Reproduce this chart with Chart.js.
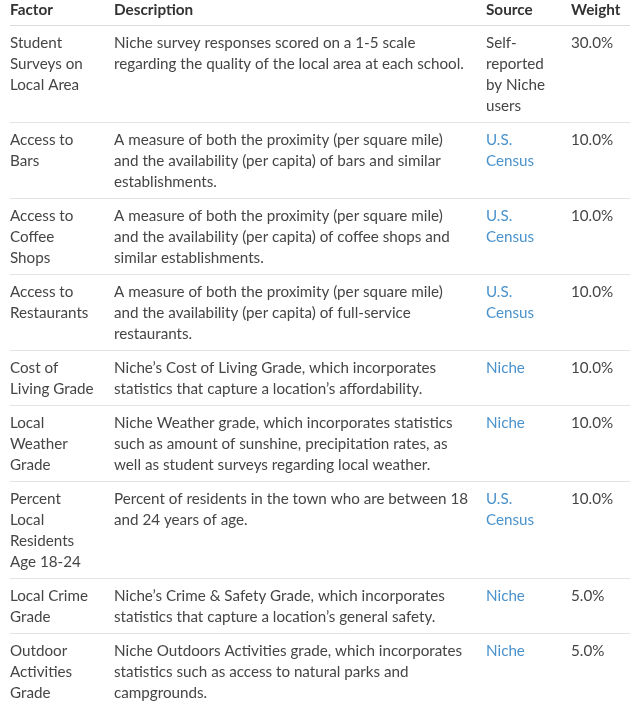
<!DOCTYPE html>
<html>
<head>
  <meta name="viewport" content="width=device-width, initial-scale=1.0">
  <title>Factors</title>
  <script src="https://cdn.jsdelivr.net/npm/chart.js"></script>
  <style>
    html, body {
      margin: 0;
      padding: 0;
      background-color: #ffffff;
    }

    #wrap {
      width: 640px;
      height: 703px;
      position: relative;
    }
  </style>
</head>
<body>
  <div id="wrap"><canvas id="myChart"></canvas></div>

  <script>
    const headers = ['Factor', 'Description', 'Source', 'Weight'];

    const factors = [
      ['Student', 'Surveys on', 'Local Area'],
      ['Access to', 'Bars'],
      ['Access to', 'Coffee', 'Shops'],
      ['Access to', 'Restaurants'],
      ['Cost of', 'Living Grade'],
      ['Local', 'Weather', 'Grade'],
      ['Percent', 'Local', 'Residents', 'Age 18-24'],
      ['Local Crime', 'Grade'],
      ['Outdoor', 'Activities', 'Grade']
    ];

    const descriptions = [
      ['Niche survey responses scored on a 1-5 scale', 'regarding the quality of the local area at each school.'],
      ['A measure of both the proximity (per square mile)', 'and the availability (per capita) of bars and similar', 'establishments.'],
      ['A measure of both the proximity (per square mile)', 'and the availability (per capita) of coffee shops and', 'similar establishments.'],
      ['A measure of both the proximity (per square mile)', 'and the availability (per capita) of full-service', 'restaurants.'],
      ['Niche\u2019s Cost of Living Grade, which incorporates', 'statistics that capture a location\u2019s affordability.'],
      ['Niche Weather grade, which incorporates statistics', 'such as amount of sunshine, precipitation rates, as', 'well as student surveys regarding local weather.'],
      ['Percent of residents in the town who are between 18', 'and 24 years of age.'],
      ['Niche\u2019s Crime & Safety Grade, which incorporates', 'statistics that capture a location\u2019s general safety.'],
      ['Niche Outdoors Activities grade, which incorporates', 'statistics such as access to natural parks and', 'campgrounds.']
    ];

    const sources = [
      ['Self-', 'reported', 'by Niche', 'users'],
      ['U.S.', 'Census'],
      ['U.S.', 'Census'],
      ['U.S.', 'Census'],
      ['Niche'],
      ['Niche'],
      ['U.S.', 'Census'],
      ['Niche'],
      ['Niche']
    ];

    const sourceIsLink = [false, true, true, true, true, true, true, true, true];

    const weights = [30.0, 10.0, 10.0, 10.0, 10.0, 10.0, 10.0, 5.0, 5.0];

    // column left edges in x units, row metrics in y units
    const colX = [10, 114, 486, 571];
    const tableRight = 630;
    const headerLine = 25;
    const lineH = 21;
    const rowGap = 13;
    const firstBase = 23;

    const FONT = 'Lato, "Noto Sans", sans-serif';
    const TEXT = '#454545';
    const LINK = '#4a92cc';
    const RULE = '#e3e3e3';

    const tablePlugin = {
      id: 'tableCells',
      afterDraw(chart) {
        const c = chart.ctx;
        const xs = chart.scales.x;
        const ys = chart.scales.y;
        c.save();
        c.textBaseline = 'alphabetic';
        c.textAlign = 'left';

        // header
        c.font = 'bold 15.3px ' + FONT;
        c.fillStyle = '#333333';
        headers.forEach((h, i) => {
          c.fillText(h, xs.getPixelForValue(colX[i]), ys.getPixelForValue(14.5));
        });

        c.strokeStyle = '#dcdcdc';
        c.lineWidth = 1;
        c.beginPath();
        c.moveTo(xs.getPixelForValue(colX[0]), Math.round(ys.getPixelForValue(headerLine)) + 0.5);
        c.lineTo(xs.getPixelForValue(tableRight), Math.round(ys.getPixelForValue(headerLine)) + 0.5);
        c.stroke();

        let top = headerLine;
        c.font = '15.2px ' + FONT;
        factors.forEach((f, r) => {
          const cells = [f, descriptions[r], sources[r], [weights[r].toFixed(1) + '%']];
          const n = Math.max(...cells.map(cl => cl.length));
          cells.forEach((lines, ci) => {
            c.fillStyle = (ci === 2 && sourceIsLink[r]) ? LINK : TEXT;
            lines.forEach((t, li) => {
              c.fillText(t, xs.getPixelForValue(colX[ci]),
                ys.getPixelForValue(top + firstBase + li * lineH));
            });
          });
          top += n * lineH + rowGap;
          if (r < factors.length - 1) {
            const y = Math.round(ys.getPixelForValue(top)) + 0.5;
            c.strokeStyle = RULE;
            c.beginPath();
            c.moveTo(xs.getPixelForValue(colX[0]), y);
            c.lineTo(xs.getPixelForValue(tableRight), y);
            c.stroke();
          }
        });
        c.restore();
      }
    };

    const ctx = document.getElementById('myChart').getContext('2d');
    const chart = new Chart(ctx, {
      type: 'scatter',
      data: { datasets: [{ data: [] }] },
      options: {
        responsive: true,
        maintainAspectRatio: false,
        animation: false,
        layout: { padding: 0 },
        plugins: {
          legend: { display: false },
          tooltip: { enabled: false }
        },
        scales: {
          x: { type: 'linear', min: 0, max: 640, display: false },
          y: { type: 'linear', min: 0, max: 703, reverse: true, display: false }
        }
      },
      plugins: [tablePlugin]
    });
  </script>
</body>
</html>
